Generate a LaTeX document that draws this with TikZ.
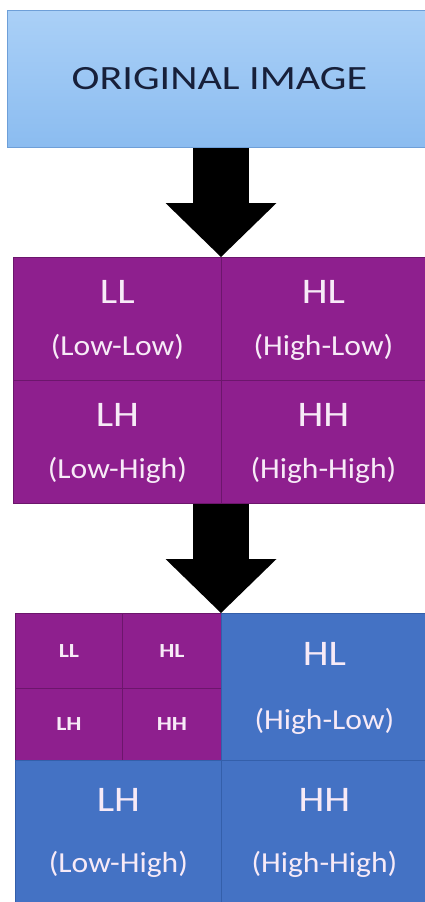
\documentclass[tikz,border=0pt]{standalone}
\usepackage{fontspec}
\setmainfont{Carlito}
\usetikzlibrary{arrows.meta,calc}
\definecolor{skytop}{HTML}{AAD0F7}
\definecolor{skybot}{HTML}{8BBCF0}
\definecolor{skyline}{HTML}{6E9FD8}
\definecolor{titleink}{HTML}{17203A}
\definecolor{plum}{HTML}{8E1F8E}
\definecolor{plumline}{HTML}{6C166C}
\definecolor{office}{HTML}{4472C4}
\definecolor{officeline}{HTML}{345FAA}
\definecolor{paleink}{HTML}{F7EAF7}
\newcommand\widen[2]{\scalebox{#1}[1]{#2}}
\tikzset{
  cell/.style={rectangle,inner sep=0pt,anchor=north west,line width=0.8pt},
  plumcell/.style={cell,fill=plum,draw=plumline},
  bluecell/.style={cell,fill=office,draw=officeline},
  biglbl/.style={text=paleink,font=\fontsize{36}{38}\selectfont,inner sep=0pt},
  sublbl/.style={text=paleink,font=\fontsize{29}{32}\selectfont,inner sep=0pt},
  tinylbl/.style={text=paleink,font=\bfseries\fontsize{20}{22}\selectfont,inner sep=0pt},
  bigarrow/.style={line width=56pt,-{Triangle[width=111pt,length=54pt,line width=0pt]}}
}
\begin{document}
\begin{tikzpicture}[x=1pt,y=-1pt]
  \useasboundingbox (0,0) rectangle (425,902);
  \clip (0,0) rectangle (425,902);
  \fill[white] (0,0) rectangle (425,902);

  % original image
  \node[cell,draw=skyline,top color=skytop,bottom color=skybot,
        minimum width=422pt,minimum height=137pt] (orig) at (7,10) {};
  \node[text=titleink,font=\fontsize{34}{36}\selectfont] (origtext) at ([xshift=1pt]orig.center)
    {\widen{1.24}{ORIGINAL IMAGE}};

  % first level
  \foreach \x/\w/\y/\h/\big/\sub in {13/208/257/123/LL/Low-Low, 221/204/257/123/HL/High-Low,
                                     13/208/380/123/LH/Low-High, 221/204/380/123/HH/High-High}{
    \node[plumcell,minimum width=\w pt,minimum height=\h pt] (g1-\big) at (\x,\y) {};
    \node[biglbl] (g1-\big-t) at ($(g1-\big.north)!0.28!(g1-\big.south)$) {\widen{1.15}{\big}};
    \node[sublbl] (g1-\big-s) at ($(g1-\big.north)!0.73!(g1-\big.south)$) {\widen{1.09}{(\sub)}};
  }

  % second level
  \foreach \x/\w/\y/\h/\big in {15/107/613/75/LL, 122/99/613/75/HL,
                                15/107/688/72/LH, 122/99/688/72/HH}{
    \node[plumcell,minimum width=\w pt,minimum height=\h pt] (q-\big) at (\x,\y) {};
    \node[tinylbl] (q-\big-t) at (q-\big.center) {\widen{1.2}{\big}};
  }
  \foreach \x/\w/\y/\h/\big/\sub in {221/206/613/147/HL/High-Low,
                                     15/206/760/142/LH/Low-High, 221/206/760/142/HH/High-High}{
    \node[bluecell,minimum width=\w pt,minimum height=\h pt] (g2-\big) at (\x,\y) {};
    \node[biglbl] (g2-\big-t) at ($(g2-\big.north)!0.28!(g2-\big.south)$) {\widen{1.15}{\big}};
    \node[sublbl] (g2-\big-s) at ($(g2-\big.north)!0.73!(g2-\big.south)$) {\widen{1.09}{(\sub)}};
  }

  % arrows
  \draw[bigarrow] (orig.south -| g1-HL.north west) -- (g1-HL.north west);
  \draw[bigarrow] (g1-HH.south west) -- (g2-HL.north west);
\end{tikzpicture}
\end{document}
